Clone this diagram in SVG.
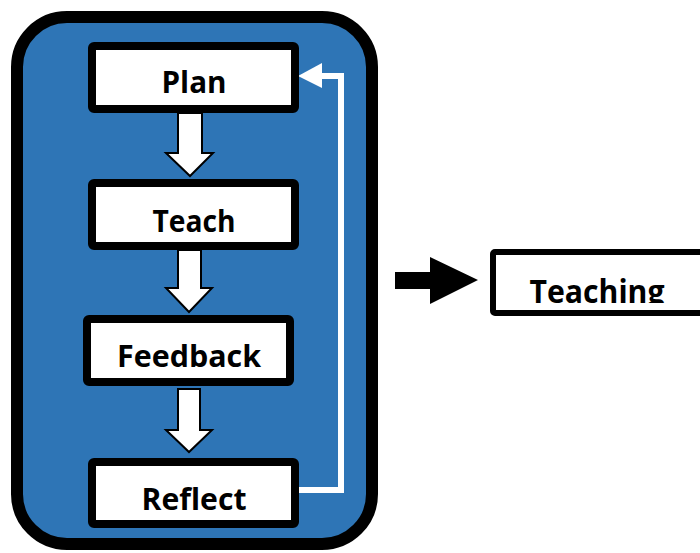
<svg xmlns="http://www.w3.org/2000/svg" width="700" height="553" viewBox="0 0 700 553">
  <style>
    .frame { fill: #2E75B6; stroke: #000; stroke-width: 12; }
    .box { fill: #fff; stroke: #000; stroke-width: 8; }
    .label { font-family: "Open Sans", "Liberation Sans", sans-serif; font-weight: bold; font-size: 30px; fill: #000; text-anchor: middle; }
    .down { fill: #fff; stroke: #000; stroke-width: 2; stroke-linejoin: miter; }
    .loop { fill: none; stroke: #fff; stroke-width: 6; stroke-linejoin: miter; }
  </style>
  <defs>
    <clipPath id="teachingClip">
      <rect x="496" y="255" width="210" height="48"/>
    </clipPath>
  </defs>
  <rect width="700" height="553" fill="#fff"/>

  <!-- cycle container -->
  <rect class="frame" x="17" y="17" width="355" height="527" rx="50" ry="50"/>

  <!-- connectors -->
  <g id="connectors">
    <polygon class="down" points="178,113 202,113 202,153 213,153 190,176 166,153 178,153"/>
    <polygon class="down" points="178,250 201,250 201,288 212,288 189,312 166,288 178,288"/>
    <polygon class="down" points="178,389 200,389 200,430 212,430 189,452 166,430 178,430"/>
    <polyline class="loop" points="295,490 341,490 341,76 318,76"/>
    <polygon points="298,76 322,63 322,88" fill="#fff"/>
    <polygon points="395,272 430,272 430,257 478,280 430,304 430,289 395,289" fill="#000"/>
  </g>

  <g id="plan">
    <rect class="box" x="92" y="46" width="203" height="63" rx="2"/>
    <text class="label" x="194" y="93" textLength="65" lengthAdjust="spacingAndGlyphs">Plan</text>
  </g>
  <g id="teach">
    <rect class="box" x="92" y="183" width="203" height="63" rx="2"/>
    <text class="label" x="194" y="232" textLength="83" lengthAdjust="spacingAndGlyphs">Teach</text>
  </g>
  <g id="feedback">
    <rect class="box" x="87" y="319" width="203" height="63" rx="2"/>
    <text class="label" x="189" y="367" textLength="144" lengthAdjust="spacingAndGlyphs">Feedback</text>
  </g>
  <g id="reflect">
    <rect class="box" x="92" y="462" width="203" height="62" rx="2"/>
    <text class="label" x="194" y="510" textLength="105" lengthAdjust="spacingAndGlyphs">Reflect</text>
  </g>
  <g id="teaching">
    <rect x="493" y="252" width="220" height="61" rx="2" fill="#fff" stroke="#000" stroke-width="6"/>
    <text class="label" x="597" y="303" style="font-size:32px" textLength="135" lengthAdjust="spacingAndGlyphs" clip-path="url(#teachingClip)">Teaching</text>
  </g>
</svg>
